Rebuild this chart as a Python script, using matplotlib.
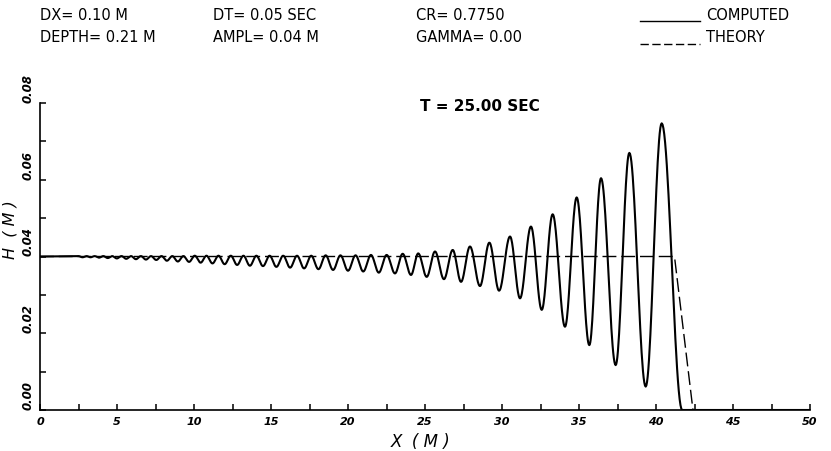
import numpy as np
import matplotlib
matplotlib.use("Agg")
import matplotlib.pyplot as plt
from matplotlib.ticker import MultipleLocator

# Computed surface: crests and troughs (x in m, H in m)
PEAK_X = [2.50, 3.02, 3.55, 4.11, 4.69, 5.29, 5.91, 6.55, 7.21, 7.89,
          8.59, 9.31, 10.05, 10.81, 11.59, 12.39, 13.21, 14.05, 14.91, 15.79,
          16.69, 17.61, 18.55, 19.51, 20.49, 21.49, 22.51, 23.55, 24.56, 25.65,
          26.80, 27.92, 29.18, 30.52, 31.88, 33.29, 34.85, 36.43, 38.27, 40.37]
PEAK_H = [0.0401, 0.0401, 0.0401, 0.0401, 0.0401, 0.0401, 0.0401, 0.0401, 0.0401, 0.0401,
          0.0401, 0.0401, 0.0402, 0.0402, 0.0402, 0.0402, 0.0402, 0.0402, 0.0402, 0.0402,
          0.0402, 0.0402, 0.0403, 0.0403, 0.0403, 0.0404, 0.0404, 0.0407, 0.0408, 0.0413,
          0.0417, 0.0426, 0.0436, 0.0452, 0.0478, 0.0510, 0.0554, 0.0604, 0.0670, 0.0747]
TROUGH_X = [2.76, 3.28, 3.83, 4.40, 4.99, 5.60, 6.23, 6.88, 7.55, 8.24,
            8.95, 9.68, 10.43, 11.20, 11.99, 12.80, 13.63, 14.48, 15.35, 16.24,
            17.15, 18.08, 19.03, 20.00, 20.99, 22.00, 23.05, 24.09, 25.11, 26.23,
            27.34, 28.57, 29.81, 31.17, 32.58, 34.09, 35.67, 37.38, 39.33]
TROUGH_H = [0.0398, 0.0398, 0.0397, 0.0396, 0.0395, 0.0394, 0.0393, 0.0392, 0.0391, 0.0389,
            0.0387, 0.0386, 0.0384, 0.0382, 0.0380, 0.0378, 0.0376, 0.0375, 0.0373, 0.0371,
            0.0369, 0.0367, 0.0365, 0.0363, 0.0361, 0.0358, 0.0356, 0.0352, 0.0347, 0.0341,
            0.0334, 0.0323, 0.0311, 0.0291, 0.0261, 0.0217, 0.0169, 0.0117, 0.0061]
# foot of the front, then still bed
FRONT_X = [41.70]
FRONT_H = [0.0000]
START_H = 0.0400
X_END = 50.0

# Theory: flat bore level then linear drop
THEORY_X = [0.0, 41.2, 42.4, 50.0]
THEORY_H = [0.04, 0.04, 0.0, 0.0]

XTICKS = [0, 5, 10, 15, 20, 25, 30, 35, 40, 45, 50]
YTICKS = [0.00, 0.02, 0.04, 0.06, 0.08]
YTICK_LABELS = ["0.00", "0.02", "0.04", "0.06", "0.08"]


def smooth_through(xs, hs, n=24):
    """Half-cosine segments between successive extrema."""
    out_x, out_h = [], []
    for (x0, h0), (x1, h1) in zip(zip(xs[:-1], hs[:-1]), zip(xs[1:], hs[1:])):
        t = np.linspace(0.0, 1.0, n, endpoint=False)
        out_x.append(x0 + t * (x1 - x0))
        out_h.append(h0 + (h1 - h0) * (1 - np.cos(np.pi * t)) / 2)
    out_x.append([xs[-1]])
    out_h.append([hs[-1]])
    return np.concatenate(out_x), np.concatenate(out_h)


ext = sorted(list(zip(PEAK_X, PEAK_H)) + list(zip(TROUGH_X, TROUGH_H)))
ex = [0.0] + [p[0] for p in ext] + FRONT_X
eh = [START_H] + [p[1] for p in ext] + FRONT_H
cx, ch = smooth_through(ex, eh)
cx = np.append(cx, X_END)
ch = np.append(ch, 0.0)

fig = plt.figure(figsize=(8.31, 4.51), dpi=100)
ax = fig.add_axes([40 / 831, 41 / 451, 770 / 831, 307 / 451])

ax.plot(cx, ch, color="black", lw=1.5, solid_joinstyle="round")
ax.plot(THEORY_X, THEORY_H, color="black", lw=1.0, linestyle=(0, (10, 3.5)))

ax.set_xlim(0, 50)
ax.set_ylim(0, 0.08)
for side in ("top", "right"):
    ax.spines[side].set_visible(False)
for side in ("left", "bottom"):
    ax.spines[side].set_linewidth(1.2)

ax.set_xticks(XTICKS)
ax.set_xticklabels([str(v) for v in XTICKS])
ax.xaxis.set_minor_locator(MultipleLocator(2.5))
ax.set_yticks(YTICKS)
ax.set_yticklabels(YTICK_LABELS)
ax.yaxis.set_minor_locator(MultipleLocator(0.01))
ax.tick_params(which="both", direction="in", length=4, width=1.1)
ax.tick_params(axis="x", which="major", pad=5)
ax.tick_params(axis="y", which="major", pad=4, labelrotation=90)
for lab in ax.get_xticklabels():
    lab.set_fontsize(8)
    lab.set_fontstyle("italic")
    lab.set_fontweight("bold")
for lab in ax.get_yticklabels():
    lab.set_fontsize(8.5)
    lab.set_fontstyle("italic")
    lab.set_fontweight("bold")
    lab.set_va("bottom")

fig.text(421 / 831, 1 - 442 / 451, "X  ( M )", ha="center", va="center",
         fontsize=12, fontstyle="italic")
fig.text(10 / 831, 1 - 230 / 451, "H  ( M )", ha="center", va="center",
         fontsize=11.5, fontstyle="italic", rotation=90)

# header block
hdr = dict(fontsize=10.5, va="center", color="black")
row1, row2 = 1 - 15 / 451, 1 - 38 / 451
fig.text(40 / 831, row1, "DX= 0.10 M", **hdr)
fig.text(213 / 831, row1, "DT= 0.05 SEC", **hdr)
fig.text(416 / 831, row1, "CR= 0.7750", **hdr)
fig.text(40 / 831, row2, "DEPTH= 0.21 M", **hdr)
fig.text(213 / 831, row2, "AMPL= 0.04 M", **hdr)
fig.text(416 / 831, row2, "GAMMA= 0.00", **hdr)
fig.text(706 / 831, row1, "COMPUTED", **hdr)
fig.text(706 / 831, row2, "THEORY", **hdr)
fig.add_artist(plt.Line2D([640 / 831, 700 / 831], [1 - 21 / 451] * 2,
                          color="black", lw=1.0, transform=fig.transFigure))
fig.add_artist(plt.Line2D([640 / 831, 700 / 831], [1 - 44 / 451] * 2,
                          color="black", lw=1.0, linestyle=(0, (6, 2.5)),
                          transform=fig.transFigure))

ax.text(0.4935, 0.99, "T = 25.00 SEC", transform=ax.transAxes,
        fontsize=11, fontweight="bold", va="center")

fig.savefig("out.png", dpi=100, facecolor="white")
